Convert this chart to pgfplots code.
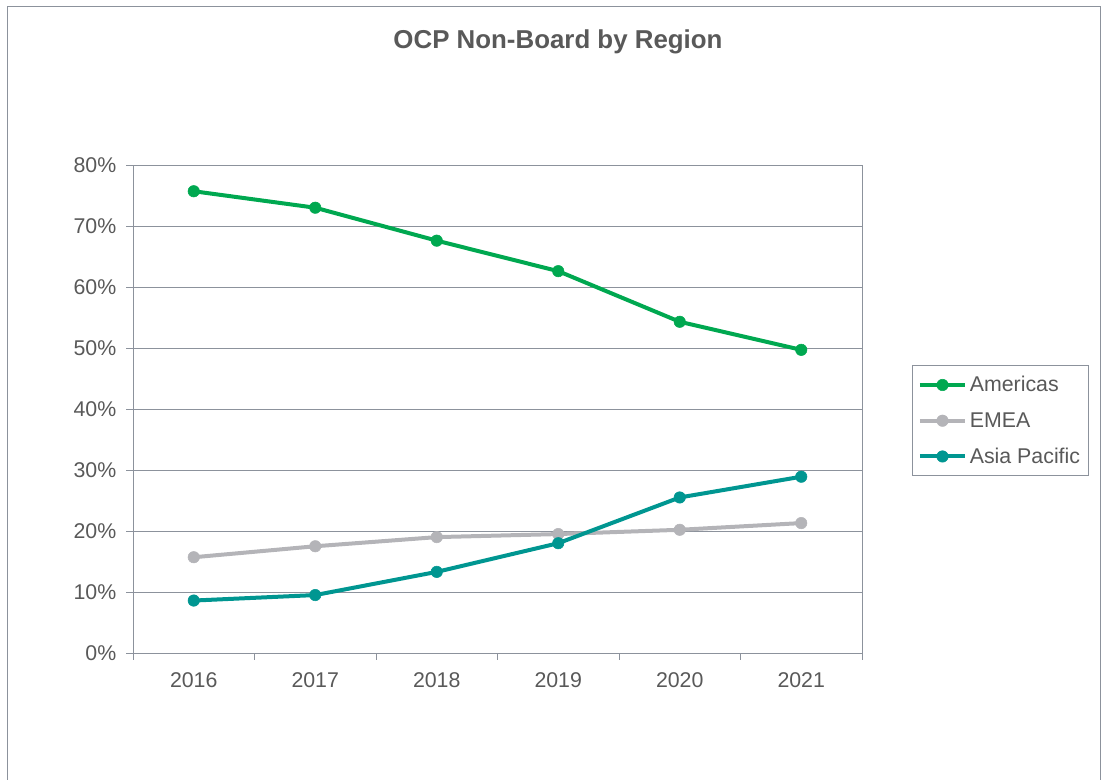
\documentclass[border=0pt]{standalone}
\usepackage{fontspec}
\setmainfont{Liberation Sans}
\usepackage{pgfplots}
\pgfplotsset{compat=1.18}
\definecolor{amer}{RGB}{0,168,80}
\definecolor{emea}{RGB}{180,180,184}
\definecolor{asia}{RGB}{0,150,145}
\definecolor{gridc}{RGB}{140,146,156}
\definecolor{txt}{RGB}{89,89,89}
\begin{document}
\begin{tikzpicture}
\path[use as bounding box] (0,0) rectangle (830.25pt,-584.25pt);
\draw[gridc, line width=0.75pt] (5.25pt,-590pt) -- (5.25pt,-4.5pt) -- (825pt,-4.5pt) -- (825pt,-590pt);
\node[txt, font=\fontsize{19.4}{23}\selectfont\bfseries] at (418.5pt,-31.5pt) {OCP Non-Board by Region};
\begin{axis}[
  at={(99.75pt,-489.75pt)}, anchor=south west,
  scale only axis, width=546.75pt, height=366pt,
  xmin=-0.5, xmax=5.5, ymin=0, ymax=80,
  xtick={-0.5,0.5,1.5,2.5,3.5,4.5,5.5},
  xticklabels={},
  extra x ticks={0,1,2,3,4,5},
  extra x tick labels={2016,2017,2018,2019,2020,2021},
  extra x tick style={tick style={draw=none}},
  ytick={0,10,...,80},
  yticklabel={\pgfmathprintnumber{\tick}\%},
  /pgf/number format/assume math mode=true,
  xtick pos=bottom, ytick pos=left,
  tick align=outside,
  major tick length=5pt,
  tick style={gridc, line width=0.75pt},
  axis line style={gridc, line width=0.75pt},
  ymajorgrids, grid style={gridc, line width=0.75pt},
  ticklabel style={txt, font=\fontsize{16}{19}\selectfont},
  xticklabel style={yshift=-6pt},
  yticklabel style={xshift=-4pt},
  legend style={at={(1.0686,0.590)}, anchor=north west,
    draw=gridc, line width=0.75pt, fill=white, text=txt,
    font=\fontsize{16}{19}\selectfont,
    row sep=10pt, inner xsep=4pt, inner ysep=6pt,
    nodes={inner sep=2pt}},
  legend cell align=left,
  legend image code/.code={\draw[mark repeat=2,mark phase=2,#1] plot coordinates {(0pt,0pt)(17pt,0pt)(34pt,0pt)};},
  every axis plot/.append style={line width=3pt, mark=*, mark size=4.3pt},
]
\addplot[amer, mark options={solid, fill=amer, draw=amer, line width=0.4pt}] coordinates {(0,75.7) (1,73.0) (2,67.6) (3,62.6) (4,54.3) (5,49.7)};
\addlegendentry{Americas}
\addplot[emea, mark options={solid, fill=emea, draw=emea, line width=0.4pt}] coordinates {(0,15.7) (1,17.5) (2,19.0) (3,19.5) (4,20.2) (5,21.3)};
\addlegendentry{EMEA}
\addplot[asia, mark options={solid, fill=asia, draw=asia, line width=0.4pt}] coordinates {(0,8.6) (1,9.5) (2,13.3) (3,18.0) (4,25.5) (5,28.9)};
\addlegendentry{Asia Pacific}
\end{axis}
\end{tikzpicture}
\end{document}
